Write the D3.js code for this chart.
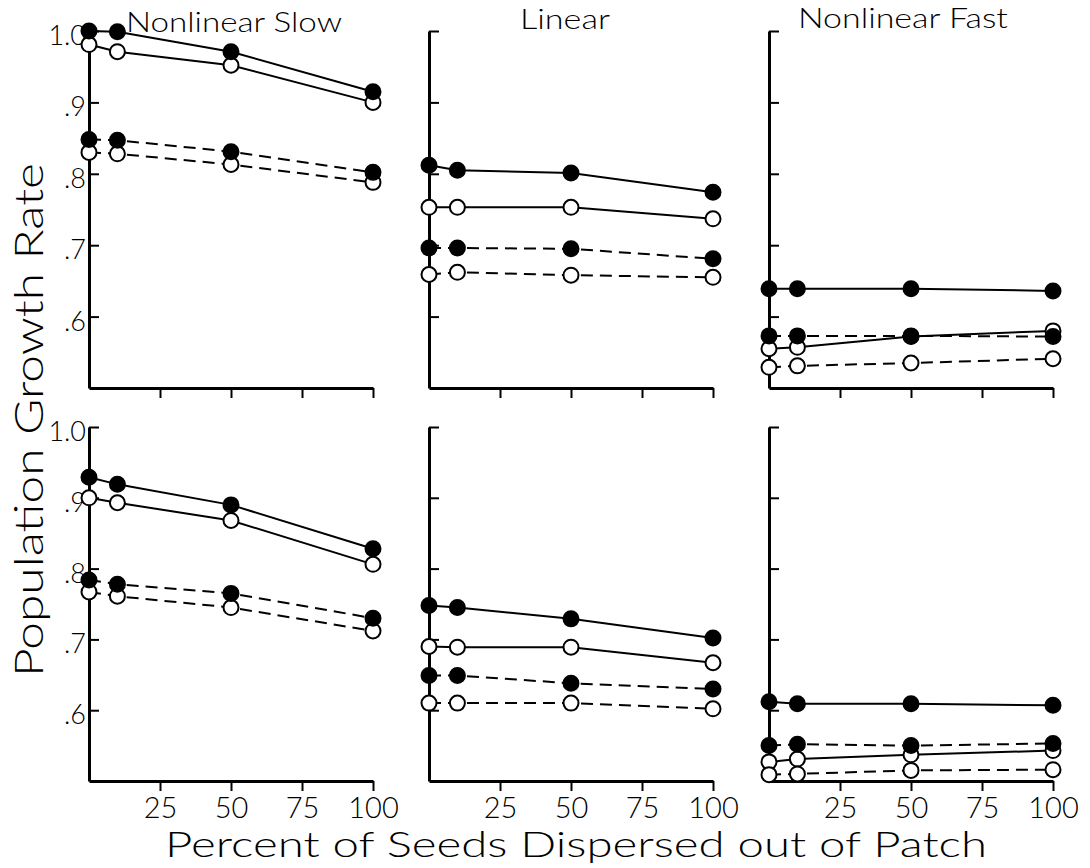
<!DOCTYPE html>
<html>
<head>
<meta charset="utf-8">
<script src="https://cdn.jsdelivr.net/npm/d3@7"></script>
<style>
  body { margin: 0; background: #fff; }
  svg { display: block; font-family: "Lato", "Liberation Sans", sans-serif; font-weight: 300; }
</style>
</head>
<body>
<script>
// x positions of the measurements (percent dispersed)
var xValues = [0, 10, 50, 100];
var xTicks = [25, 50, 75, 100];
var yTicks = [0.6, 0.7, 0.8, 0.9, 1.0];
var yTickLabels = ['.6', '.7', '.8', '.9', '1.0'];
var panelTitles = ['Nonlinear Slow', 'Linear', 'Nonlinear Fast'];

// series order in each panel: filled-solid, open-solid, filled-dashed, open-dashed
var seriesKinds = ['filled-solid', 'open-solid', 'filled-dashed', 'open-dashed'];

var topSlow = [
	[1.000, 0.999, 0.971, 0.915],
	[0.981, 0.971, 0.952, 0.900],
	[0.848, 0.847, 0.831, 0.802],
	[0.830, 0.828, 0.813, 0.788]
];
var topLinear = [
	[0.812, 0.805, 0.801, 0.774],
	[0.753, 0.753, 0.753, 0.737],
	[0.696, 0.696, 0.695, 0.681],
	[0.659, 0.662, 0.658, 0.655]
];
var topFast = [
	[0.639, 0.639, 0.639, 0.636],
	[0.555, 0.557, 0.572, 0.580],
	[0.573, 0.573, 0.573, 0.572],
	[0.529, 0.531, 0.535, 0.541]
];
var bottomSlow = [
	[0.929, 0.919, 0.890, 0.828],
	[0.900, 0.893, 0.868, 0.806],
	[0.784, 0.778, 0.765, 0.730],
	[0.767, 0.761, 0.745, 0.712]
];
var bottomLinear = [
	[0.748, 0.745, 0.729, 0.702],
	[0.690, 0.689, 0.689, 0.667],
	[0.649, 0.649, 0.638, 0.630],
	[0.610, 0.610, 0.610, 0.602]
];
var bottomFast = [
	[0.612, 0.609, 0.609, 0.607],
	[0.527, 0.531, 0.537, 0.543],
	[0.550, 0.552, 0.550, 0.553],
	[0.509, 0.510, 0.515, 0.516]
];

var panels = [
	[topSlow, topLinear, topFast],
	[bottomSlow, bottomLinear, bottomFast]
];

// layout
var width = 1090, height = 868;
var colX = [89, 429, 769];
var panelWidth = 284;
var rowTop = [31, 427];
var rowBottom = [388, 781];
var radius = 7.5;

var svg = d3.select('body').append('svg')
	.attr('width', width)
	.attr('height', height);

svg.append('rect').attr('width', width).attr('height', height).attr('fill', '#fff');

panels.forEach(function(row, r) {
	row.forEach(function(data, c) {
		var x = d3.scaleLinear().domain([0, 100]).range([colX[c], colX[c] + panelWidth]);
		var y = d3.scaleLinear().domain([0.5, 1.0]).range([rowBottom[r], rowTop[r]]);
		var g = svg.append('g');

		// y axis, ticks pointing inward
		var yAxis = g.append('g')
			.attr('transform', 'translate(' + colX[c] + ',0)')
			.call(d3.axisRight(y).tickValues(yTicks).tickSize(10).tickSizeOuter(0).tickFormat(''));
		yAxis.select('.domain').attr('stroke-width', 3);
		yAxis.selectAll('.tick line').attr('stroke-width', 2);

		if (c == 0) {
			var yLab = g.append('g')
				.attr('transform', 'translate(' + (colX[c] - 3) + ',0)')
				.call(d3.axisLeft(y).tickValues(yTicks).tickSize(0).tickPadding(0)
					.tickFormat(function(d, i) { return yTickLabels[i]; }));
			yLab.select('.domain').remove();
			yLab.selectAll('text')
				.attr('font-size', 27)
				.attr('font-family', 'Lato, "Liberation Sans", sans-serif')
				.attr('font-weight', 300)
				.attr('fill', '#000')
				.attr('dy', '0.5em');
		}

		// x axis
		var xAxis = g.append('g')
			.attr('transform', 'translate(0,' + rowBottom[r] + ')')
			.call(d3.axisBottom(x).tickValues(xTicks).tickSize(10).tickSizeOuter(0).tickPadding(6)
				.tickFormat(r == 1 ? d3.format('d') : ''));
		xAxis.select('.domain').attr('stroke-width', 3);
		xAxis.selectAll('.tick line').attr('stroke-width', 2);
		xAxis.selectAll('text')
			.attr('font-size', 29)
			.attr('font-family', 'Lato, "Liberation Sans", sans-serif')
			.attr('font-weight', 300)
			.attr('fill', '#000');

		var line = d3.line()
			.x(function(d, i) { return x(xValues[i]); })
			.y(function(d) { return y(d); });

		// lines first
		data.forEach(function(series, s) {
			var dashed = seriesKinds[s].indexOf('dashed') >= 0;
			g.append('path')
				.datum(series)
				.attr('d', line)
				.attr('fill', 'none')
				.attr('stroke', '#000')
				.attr('stroke-width', 2)
				.attr('stroke-dasharray', dashed ? '12,7' : null);
		});

		// open markers, then filled markers on top
		var order = [1, 3, 0, 2];
		order.forEach(function(s) {
			var filled = seriesKinds[s].indexOf('filled') >= 0;
			g.append('g').selectAll('circle')
				.data(data[s])
				.enter()
				.append('circle')
				.attr('cx', function(d, i) { return x(xValues[i]); })
				.attr('cy', function(d) { return y(d); })
				.attr('r', radius)
				.attr('fill', filled ? '#000' : '#fff')
				.attr('stroke', '#000')
				.attr('stroke-width', 2);
		});

		// panel titles on top row
		if (r == 0) {
			var titleX = [234, 565, 903];
			var titleW = [216, 90, 210];
			g.append('text')
				.attr('x', titleX[c])
				.attr('y', [32, 29, 28][c])
				.attr('text-anchor', 'middle')
				.attr('font-size', 28)
				.attr('textLength', titleW[c])
				.attr('lengthAdjust', 'spacingAndGlyphs')
				.text(panelTitles[c]);
		}
	});
});

// axis titles
svg.append('text')
	.attr('transform', 'translate(43,420) rotate(-90)')
	.attr('text-anchor', 'middle')
	.attr('font-size', 40)
	.attr('textLength', 514)
	.attr('lengthAdjust', 'spacingAndGlyphs')
	.text('Population Growth Rate');

svg.append('text')
	.attr('x', 576)
	.attr('y', 857)
	.attr('text-anchor', 'middle')
	.attr('font-size', 36)
	.attr('textLength', 822)
	.attr('lengthAdjust', 'spacingAndGlyphs')
	.text('Percent of Seeds Dispersed out of Patch');
</script>
</body>
</html>
